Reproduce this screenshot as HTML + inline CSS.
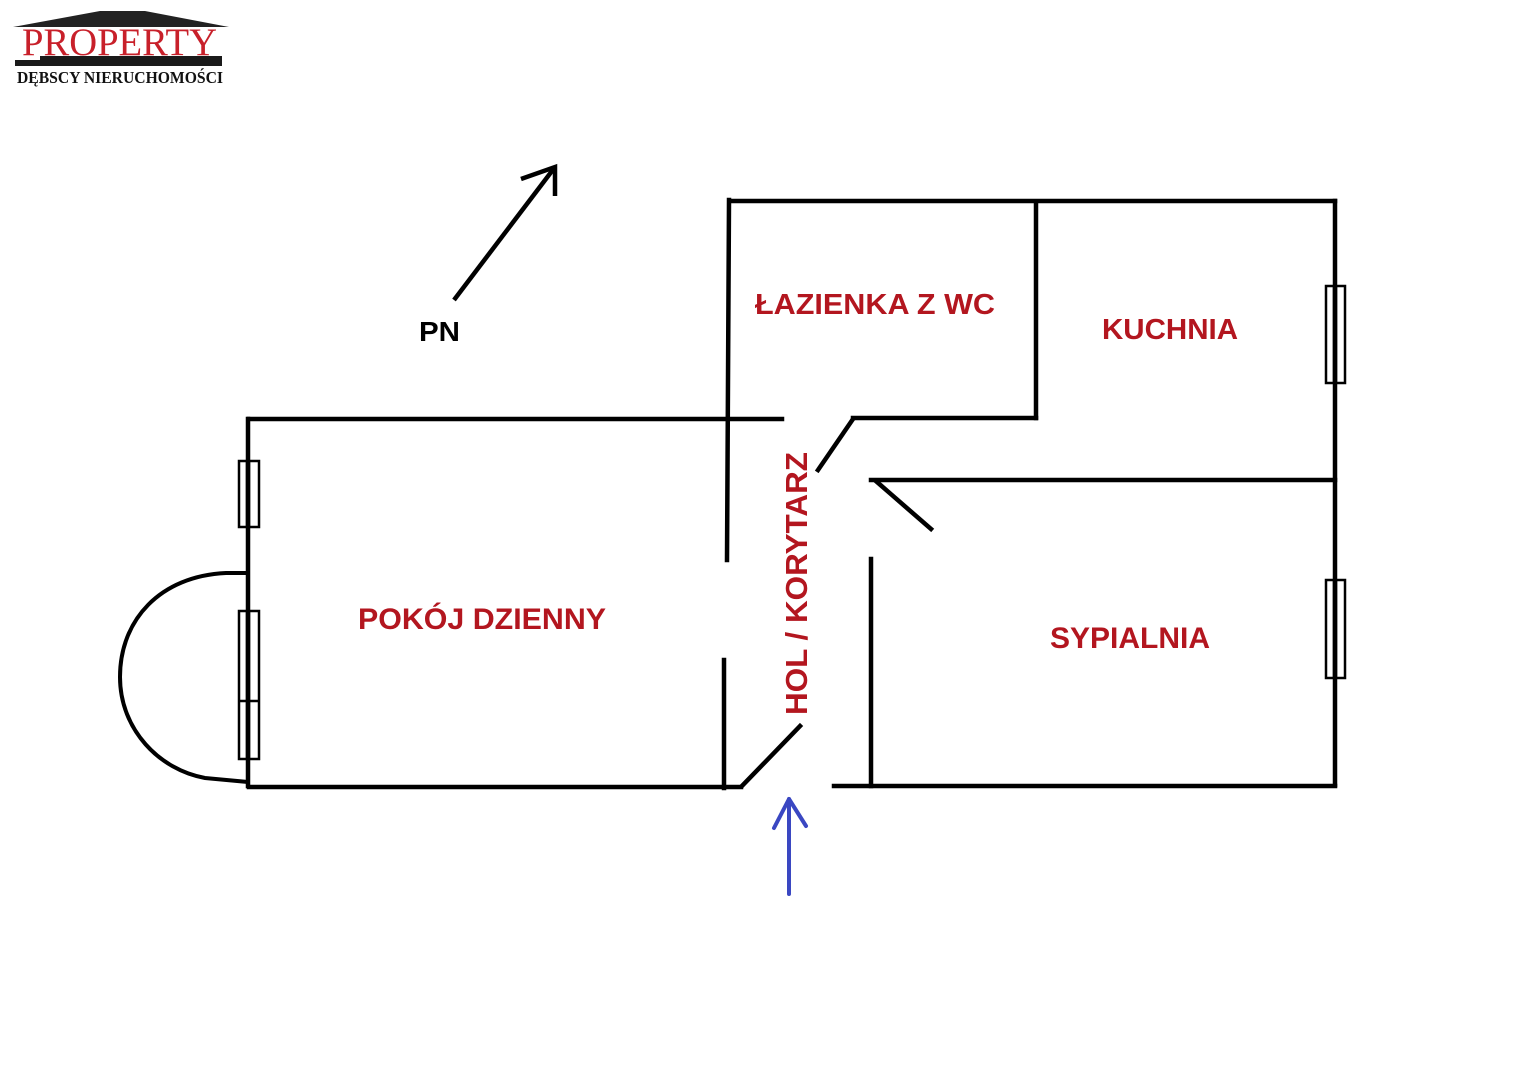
<!DOCTYPE html>
<html>
<head>
<meta charset="utf-8">
<style>
  html,body{margin:0;padding:0;background:#fff;}
  body{width:1528px;height:1080px;overflow:hidden;}
  svg{display:block;}
  .room{font-family:"Liberation Sans",Arial,sans-serif;font-weight:bold;fill:#b3161f;}
</style>
</head>
<body>
<svg width="1528" height="1080" viewBox="0 0 1528 1080" xmlns="http://www.w3.org/2000/svg">
  <rect width="1528" height="1080" fill="#fff"/>

  <!-- Logo -->
  <polygon points="13,27 100,11 145,11 229,27" fill="#222"/>
  <text x="22" y="55" font-family="'Liberation Serif',serif" font-size="39" fill="#c8202a" textLength="195" lengthAdjust="spacingAndGlyphs">PROPERTY</text>
  <rect x="15" y="60" width="207" height="6" fill="#1a1a1a"/>
  <rect x="40" y="56" width="182" height="10" fill="#1a1a1a"/>
  <text x="17" y="83" font-family="'Liberation Serif',serif" font-weight="bold" font-size="17" fill="#111" textLength="206" lengthAdjust="spacingAndGlyphs">DĘBSCY NIERUCHOMOŚCI</text>

  <!-- North arrow -->
  <g stroke="#000" stroke-width="4.5" fill="none" stroke-linecap="butt" stroke-linejoin="miter">
    <line x1="454" y1="300" x2="555" y2="167"/>
    <polyline points="521,179 555,167 555,196"/>
  </g>
  <text x="419" y="341" font-family="'Liberation Sans',sans-serif" font-weight="bold" font-size="28" fill="#000" textLength="41" lengthAdjust="spacingAndGlyphs">PN</text>

  <!-- Walls -->
  <g stroke="#000" stroke-width="4.5" fill="none" stroke-linecap="square" stroke-linejoin="miter">
    <!-- top outer -->
    <line x1="730" y1="201" x2="1335" y2="201"/>
    <!-- right outer -->
    <line x1="1335" y1="201" x2="1335" y2="785"/>
    <!-- lazienka left / hall left upper -->
    <line x1="729" y1="200" x2="727" y2="560"/>
    <!-- lazienka right -->
    <line x1="1036" y1="203" x2="1036" y2="418"/>
    <!-- lazienka bottom -->
    <line x1="853" y1="418" x2="1036" y2="418"/>
    <!-- upper door diagonal -->
    <line x1="853" y1="419" x2="818" y2="470"/>
    <!-- pokoj top -->
    <line x1="249" y1="419" x2="782" y2="419"/>
    <!-- pokoj left -->
    <line x1="248" y1="419" x2="248" y2="786"/>
    <!-- pokoj bottom -->
    <line x1="249" y1="787" x2="741" y2="787"/>
    <!-- hall left lower -->
    <line x1="724" y1="660" x2="724" y2="788"/>
    <!-- lower door diagonal -->
    <line x1="742" y1="786" x2="800" y2="726"/>
    <!-- sypialnia top -->
    <line x1="871" y1="480" x2="1335" y2="480"/>
    <!-- sypialnia door diagonal -->
    <line x1="877" y1="482" x2="931" y2="529"/>
    <!-- sypialnia left -->
    <line x1="871" y1="559" x2="871" y2="786"/>
    <!-- bottom right -->
    <line x1="834" y1="786" x2="1335" y2="786"/>
  </g>

  <!-- Bay window arc -->
  <path d="M248,573 L226,573 C160,576 120,620 120,677 C120,730 160,770 205,778 L248,782" stroke="#000" stroke-width="4" fill="none"/>

  <!-- Windows -->
  <g stroke="#000" stroke-width="2.5" fill="none">
    <rect x="239" y="461" width="20" height="66"/>
    <rect x="239" y="611" width="20" height="148"/>
    <line x1="239" y1="701" x2="259" y2="701"/>
    <rect x="1326" y="286" width="19" height="97"/>
    <rect x="1326" y="580" width="19" height="98"/>
  </g>
  <g stroke="#000" stroke-width="4.5">
    <line x1="248" y1="461" x2="248" y2="527"/>
    <line x1="248" y1="611" x2="248" y2="759"/>
    <line x1="1335" y1="286" x2="1335" y2="383"/>
    <line x1="1335" y1="580" x2="1335" y2="678"/>
  </g>

  <!-- Room labels -->
  <text class="room" x="755" y="314" font-size="29" textLength="240" lengthAdjust="spacingAndGlyphs">ŁAZIENKA Z WC</text>
  <text class="room" x="1102" y="339" font-size="29" textLength="136" lengthAdjust="spacingAndGlyphs">KUCHNIA</text>
  <text class="room" x="358" y="629" font-size="30" textLength="248" lengthAdjust="spacingAndGlyphs">POKÓJ DZIENNY</text>
  <text class="room" x="1050" y="648" font-size="30" textLength="160" lengthAdjust="spacingAndGlyphs">SYPIALNIA</text>
  <text class="room" transform="translate(807,715) rotate(-90)" x="0" y="0" font-size="31" textLength="263" lengthAdjust="spacingAndGlyphs">HOL / KORYTARZ</text>

  <!-- Entrance arrow -->
  <g stroke="#3a47c2" stroke-width="4" fill="none" stroke-linecap="round" stroke-linejoin="round">
    <line x1="789" y1="799" x2="789" y2="894"/>
    <polyline points="774,828 789,799 806,826"/>
  </g>
</svg>
</body>
</html>
